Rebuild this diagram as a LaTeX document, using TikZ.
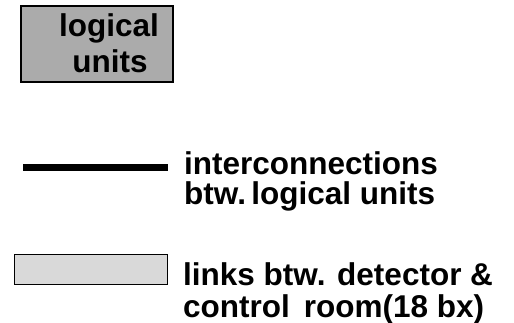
\documentclass[tikz,border=0pt]{standalone}
\usepackage{fontspec}
\setmainfont{Liberation Sans}
\begin{document}
\begin{tikzpicture}[x=1pt,y=-1pt,
  label text/.style={font=\fontsize{31.5}{36}\selectfont\bfseries, inner sep=0pt, anchor=base west},
  unit box/.style={draw=black, line width=1.2pt, fill=black!33, inner sep=0pt},
  link box/.style={draw=black, line width=0.9pt, fill=black!15, inner sep=0pt},
  wire/.style={line width=7pt}]
\useasboundingbox (0,0) rectangle (514,323);

% logical unit symbol
\node[unit box, minimum width=152pt, minimum height=76pt] (unit) at (97,44) {};
\node[label text, anchor=base] (unitA) at (109,37) {logical};
\node[label text, anchor=base] (unitB) at (110,73) {units};

% interconnection symbol
\coordinate (wireL) at (23,168);
\coordinate (wireR) at (168,168);
\draw[wire] (wireL) -- (wireR);
\node[label text] (intA) at (184,175) {interconnections};
\node[label text] (intB) at (184,205) {btw.\,logical units};

% detector link symbol
\node[link box, minimum width=153pt, minimum height=30pt] (link) at (90.5,269) {};
\node[label text] (linkA) at (183,285) {links btw. detector \&};
\node[label text] (linkB) at (183,317) {control\,\ room(18 bx)};
\end{tikzpicture}
\end{document}
